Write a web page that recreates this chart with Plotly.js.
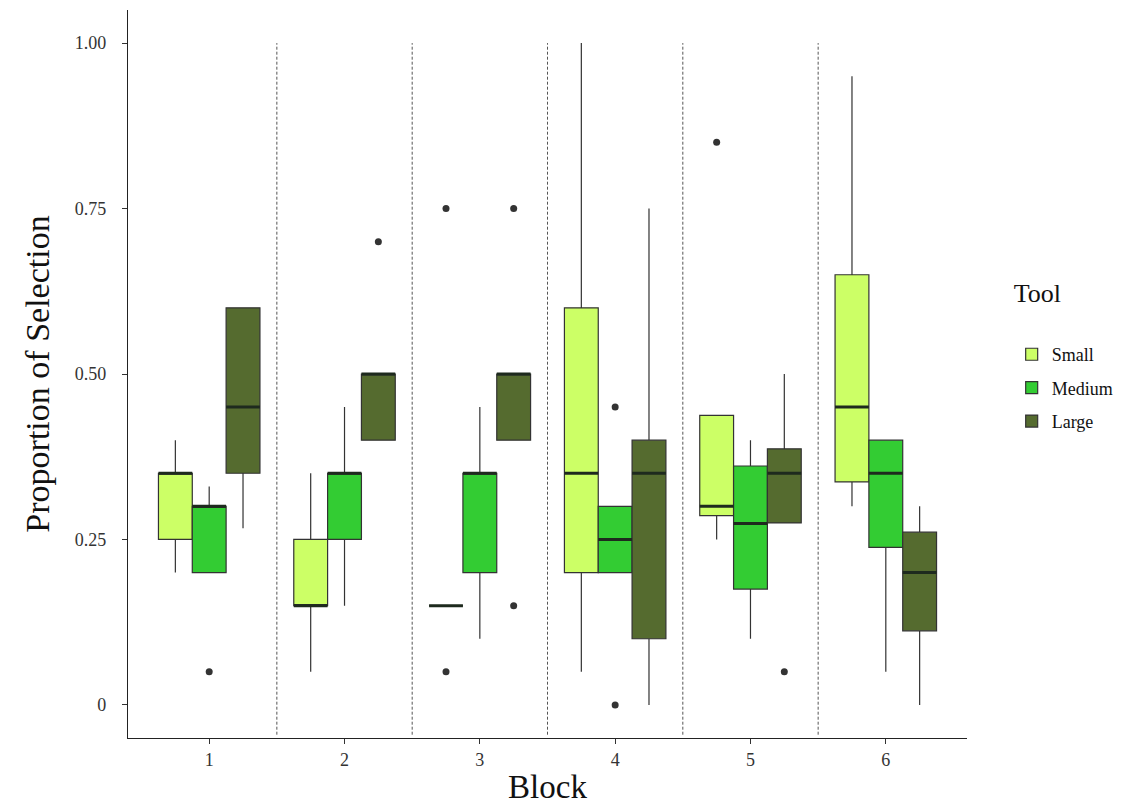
<!DOCTYPE html>
<html>
<head>
<meta charset="utf-8">
<script src="https://cdn.plot.ly/plotly-3.0.1.min.js"></script>
<style>html,body{margin:0;padding:0;background:#fff;}#chart{width:1127px;height:806px;}</style>
</head>
<body>
<div id="chart"></div>
<script>
var blocks = [1, 2, 3, 4, 5, 6];
var tools = ["Small", "Medium", "Large"];
var toolColors = ["#ccff66", "#33cc33", "#556b2f"];

// Small
var smallQ1     = [0.25, 0.15, 0.15, 0.20, 0.286, 0.337];
var smallMedian = [0.35, 0.15, 0.15, 0.35, 0.30, 0.45];
var smallQ3     = [0.35, 0.25, 0.15, 0.60, 0.4375, 0.65];
var smallLow    = [0.20, 0.05, 0.15, 0.05, 0.25, 0.30];
var smallHigh   = [0.40, 0.35, 0.15, 1.00, 0.4375, 0.95];
var smallOut    = [[], [], [0.75, 0.05], [], [0.85], []];

// Medium
var mediumQ1     = [0.20, 0.25, 0.20, 0.20, 0.175, 0.238];
var mediumMedian = [0.30, 0.35, 0.35, 0.25, 0.274, 0.35];
var mediumQ3     = [0.30, 0.35, 0.35, 0.30, 0.361, 0.40];
var mediumLow    = [0.20, 0.15, 0.10, 0.20, 0.10, 0.05];
var mediumHigh   = [0.33, 0.45, 0.45, 0.30, 0.40, 0.40];
var mediumOut    = [[0.05], [], [], [0.45, 0.0], [], []];

// Large
var largeQ1     = [0.35, 0.40, 0.40, 0.10, 0.275, 0.112];
var largeMedian = [0.45, 0.50, 0.50, 0.35, 0.35, 0.20];
var largeQ3     = [0.60, 0.50, 0.50, 0.40, 0.387, 0.261];
var largeLow    = [0.267, 0.40, 0.40, 0.0, 0.275, 0.0];
var largeHigh   = [0.60, 0.50, 0.50, 0.75, 0.50, 0.30];
var largeOut    = [[], [0.70], [0.75, 0.15], [], [0.05], []];

var yTickVals = [0, 0.25, 0.5, 0.75, 1.0];
var yTickText = ["0", "0.25", "0.50", "0.75", "1.00"];
var xTickText = ["1", "2", "3", "4", "5", "6"];

var series = [
  {q1: smallQ1, med: smallMedian, q3: smallQ3, lo: smallLow, hi: smallHigh, out: smallOut},
  {q1: mediumQ1, med: mediumMedian, q3: mediumQ3, lo: mediumLow, hi: mediumHigh, out: mediumOut},
  {q1: largeQ1, med: largeMedian, q3: largeQ3, lo: largeLow, hi: largeHigh, out: largeOut}
];

var BOXGAP = 0.25;
var slotWidth = (1 - BOXGAP) / tools.length;

var traces = [];
series.forEach(function (s, k) {
  traces.push({
    type: "box",
    name: tools[k],
    x: blocks,
    q1: s.q1, median: s.med, q3: s.q3,
    lowerfence: s.lo, upperfence: s.hi,
    boxpoints: false,
    offsetgroup: tools[k],
    legendgroup: tools[k],
    fillcolor: toolColors[k],
    line: {color: "#333333", width: 1.2},
    whiskerwidth: 0,
    hoverinfo: "skip"
  });
});
// thick median overlays
series.forEach(function (s, k) {
  traces.push({
    type: "box",
    name: tools[k] + " median",
    x: blocks,
    q1: s.med, median: s.med, q3: s.med,
    lowerfence: s.med, upperfence: s.med,
    boxpoints: false,
    offsetgroup: tools[k],
    legendgroup: tools[k],
    showlegend: false,
    fillcolor: "rgba(0,0,0,0)",
    line: {color: "#1e2a1e", width: 3},
    whiskerwidth: 0,
    hoverinfo: "skip"
  });
});
// outliers
series.forEach(function (s, k) {
  var ox = [], oy = [];
  var shift = (k - (tools.length - 1) / 2) * slotWidth;
  s.out.forEach(function (vals, b) {
    vals.forEach(function (v) { ox.push(blocks[b] + shift); oy.push(v); });
  });
  traces.push({
    type: "scatter", mode: "markers",
    x: ox, y: oy,
    legendgroup: tools[k],
    showlegend: false,
    marker: {color: "#333333", size: 7},
    hoverinfo: "skip"
  });
});

var shapes = [];
for (var i = 0; i < blocks.length - 1; i++) {
  shapes.push({
    type: "line", xref: "x", yref: "y",
    x0: blocks[i] + 0.5, x1: blocks[i] + 0.5,
    y0: -0.045, y1: 1.0,
    line: {color: "#555555", width: 1, dash: "3px,2px"}
  });
}

var font = "Liberation Serif, Times New Roman, serif";
var layout = {
  width: 1127, height: 806,
  margin: {l: 128, r: 159, t: 10, b: 68},
  paper_bgcolor: "#ffffff", plot_bgcolor: "#ffffff",
  boxmode: "group", boxgap: BOXGAP, boxgroupgap: 0,
  showlegend: true,
  font: {family: font, color: "#222"},
  xaxis: {
    range: [0.4, 6.6],
    tickvals: blocks, ticktext: xTickText,
    showgrid: false, zeroline: false,
    showline: true, linecolor: "#222", linewidth: 1.2,
    ticks: "outside", ticklen: 5, tickcolor: "#333", tickwidth: 1,
    tickfont: {family: font, size: 18, color: "#333"},
    title: {text: "Block", font: {family: font, size: 33, color: "#111"}, standoff: 6}
  },
  yaxis: {
    range: [-0.05, 1.05],
    tickvals: yTickVals, ticktext: yTickText,
    showgrid: false, zeroline: false,
    showline: true, linecolor: "#222", linewidth: 1.2,
    ticks: "outside", ticklen: 5, tickcolor: "#333", tickwidth: 1,
    ticklabelstandoff: 12,
    tickfont: {family: font, size: 18, color: "#333"},
    title: {text: "Proportion of Selection", font: {family: font, size: 34, color: "#111"}, standoff: 14}
  },
  legend: {
    x: 1.052, y: 0.645, xanchor: "left", yanchor: "top",
    title: {text: "Tool<br><span style='font-size:8px'> </span>", font: {family: font, size: 26, color: "#111"}},
    font: {family: font, size: 18, color: "#111"},
    traceorder: "grouped", tracegroupgap: 7,
    bgcolor: "rgba(0,0,0,0)"
  },
  shapes: shapes
};

Plotly.newPlot("chart", traces, layout, {displayModeBar: false, staticPlot: true});
</script>
</body>
</html>
